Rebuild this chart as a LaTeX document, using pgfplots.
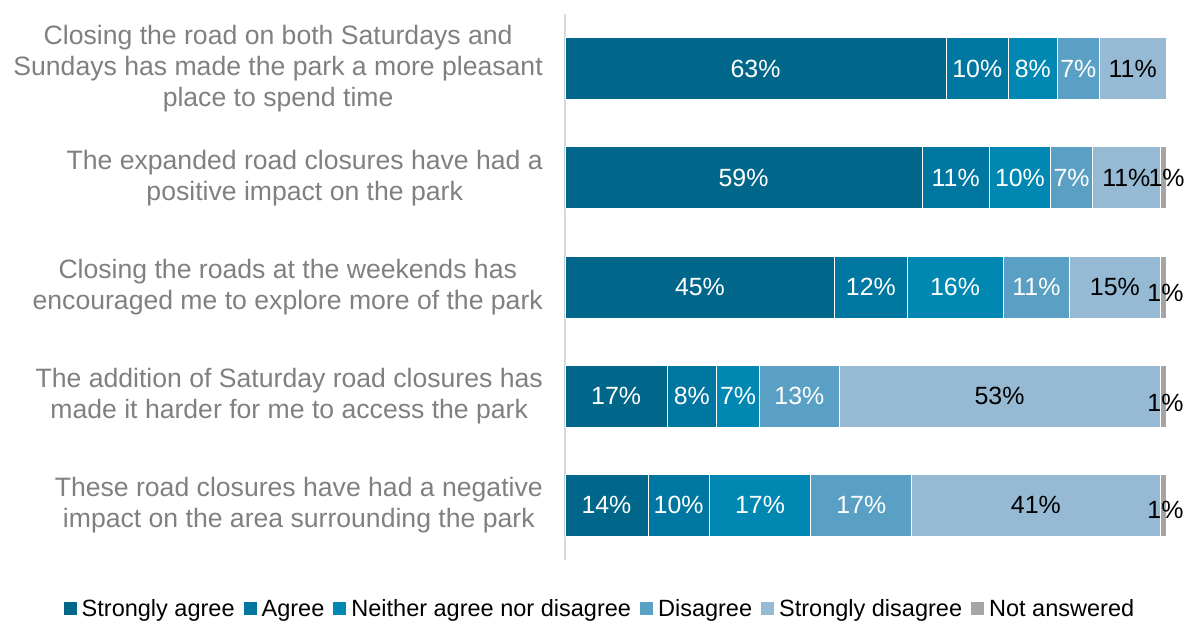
\documentclass[border=0pt]{standalone}
\usepackage{pgfplots}
\pgfplotsset{compat=1.18}
\usepackage{fontspec}
\setmainfont{Liberation Sans}
\definecolor{cSA}{HTML}{00668A}
\definecolor{cA}{HTML}{0077A0}
\definecolor{cN}{HTML}{0088B2}
\definecolor{cD}{HTML}{5AA0C4}
\definecolor{cSD}{HTML}{96BAD4}
\definecolor{cNA}{HTML}{A5A5A5}
\definecolor{catgray}{HTML}{808080}
\definecolor{axgray}{HTML}{D9D9D9}
\begin{document}
\begin{tikzpicture}
\begin{axis}[
  at={(0,0)}, anchor=south west,
  scale only axis, width=601bp, height=546bp,
  xbar stacked, bar width=62bp,
  xmin=0, xmax=100, ymin=-0.5, ymax=4.5, y dir=reverse,
  axis x line=none, axis y line=left,
  y axis line style={draw=axgray, line width=2bp, -},
  ytick={0,1,2,3,4}, major tick length=0pt,
  yticklabels={
    {Closing the road on both Saturdays and\\Sundays has made the park a more pleasant\\place to spend time},
    {The expanded road closures have had a\\positive impact on the park},
    {Closing the roads at the weekends has\\encouraged me to explore more of the park},
    {The addition of Saturday road closures has\\made it harder for me to access the park},
    {These road closures have had a negative\\impact on the area surrounding the park}},
  yticklabel style={align=center, text=catgray, font=\fontsize{26.7}{31}\selectfont, inner sep=0pt, xshift=-22bp},
  legend style={at={(0.0582,-0.0897)}, anchor=center, legend columns=-1, draw=none,
    font=\fontsize{23.6}{26}\selectfont, nodes={inner sep=2bp},
    /tikz/every odd column/.append style={column sep=3bp},
    /tikz/every even column/.append style={column sep=7bp}},
  legend image code/.code={\fill[#1, draw=none] (0bp,-6.5bp) rectangle (13bp,6.5bp);},
  every axis plot/.append style={draw=white, line width=0.75bp},
  clip=false,
]
\addplot[fill=cSA] coordinates {(63.4,0) (59.4,1) (44.9,2) (17.0,3) (13.8,4)};
\addplot[fill=cA]  coordinates {(10.4,0) (11.2,1) (12.0,2) (8.2,3) (10.2,4)};
\addplot[fill=cN]  coordinates {(8.1,0) (10.2,1) (16.0,2) (7.2,3) (16.9,4)};
\addplot[fill=cD]  coordinates {(7.0,0) (7.0,1) (11.1,2) (13.2,3) (16.8,4)};
\addplot[fill=cSD] coordinates {(11.1,0) (11.2,1) (15.0,2) (53.4,3) (41.3,4)};
\addplot[fill=cNA] coordinates {(0,0) (1.0,1) (1.0,2) (1.0,3) (1.0,4)};
\legend{Strongly agree, Agree, Neither agree nor disagree, Disagree, Strongly disagree, Not answered}
\end{axis}
\begin{axis}[
  at={(0,0)}, anchor=south west,
  scale only axis, width=601bp, height=546bp,
  xmin=0, xmax=100, ymin=-0.5, ymax=4.5, y dir=reverse,
  hide axis, clip=false,
  nodes near coords={\pgfplotspointmeta\%},
  point meta=explicit symbolic,
]
\addplot[draw=none, mark=none, nodes near coords style={anchor=center, text=white, font=\fontsize{25}{28}\selectfont}]
  table[meta=l] {
x y l
31.7 0 63
68.6 0 10
77.85 0 8
85.4 0 7
29.7 1 59
65.0 1 11
75.7 1 10
84.3 1 7
22.45 2 45
50.9 2 12
64.9 2 16
78.45 2 11
8.5 3 17
21.1 3 8
28.8 3 7
39.0 3 13
6.9 4 14
18.9 4 10
32.45 4 17
49.3 4 17
};
\addplot[draw=none, mark=none, nodes near coords style={anchor=center, text=black, font=\fontsize{25}{28}\selectfont}]
  table[meta=l] {
x y l
94.45 0 11
93.4 1 11
91.5 2 15
72.3 3 53
78.35 4 41
};
\addplot[draw=none, mark=none, nodes near coords style={anchor=center, text=black, font=\fontsize{25}{28}\selectfont}]
  table[meta=l] {
x y l
100.1 1.0 1
99.9 2.05 1
99.9 3.06 1
99.9 4.04 1
};
\end{axis}
\path[use as bounding box] (-565bp,-62bp) rectangle (623bp,560bp);
\end{tikzpicture}
\end{document}
